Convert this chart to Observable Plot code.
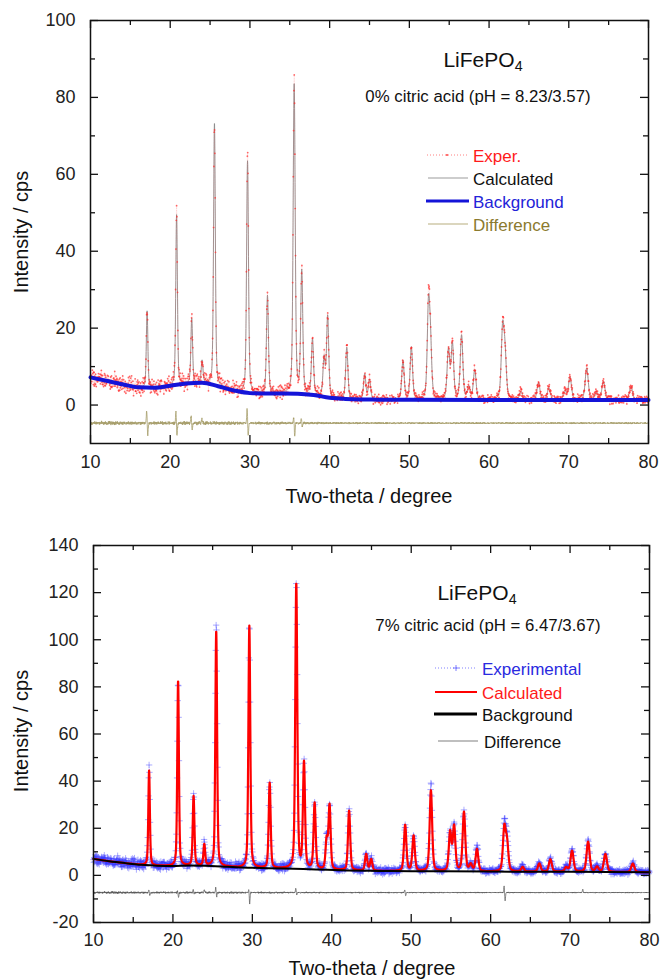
<!DOCTYPE html>
<html><head><meta charset="utf-8">
<script src="https://cdn.jsdelivr.net/npm/d3@7"></script>
<script src="https://cdn.jsdelivr.net/npm/@observablehq/plot@0.6"></script>
<style>
body{margin:0;background:#fff;}
#wrap{position:relative;width:662px;height:979px;font-family:"Liberation Sans",Arial,Helvetica,sans-serif;color:#111;overflow:hidden;background:#fff}
#wrap > svg{position:absolute;left:0;}
.t{position:absolute;white-space:nowrap;line-height:1;}
.t sub{font-size:0.68em;vertical-align:-0.28em;line-height:0;}
</style></head><body><div id="wrap"></div>
<script>
// ---------- axis ticks ----------
const xMajor = [10, 20, 30, 40, 50, 60, 70, 80];
const xMinor = [15, 25, 35, 45, 55, 65, 75];
const topYMajor = [0, 20, 40, 60, 80, 100];
const topYMinor = [10, 30, 50, 70, 90];
const botYMajor = [-20, 0, 20, 40, 60, 80, 100, 120, 140];
const botYMinor = [-10, 10, 30, 50, 70, 90, 110, 130];

// ---------- top panel (0% citric acid) ----------
const topBgTheta = [10, 12, 14, 16, 18, 20, 22, 24, 26, 28, 30, 32, 34, 36, 38, 40, 42, 44, 46, 50, 60, 70, 80];
const topBgValue = [7.2, 6.3, 5.4, 4.6, 4.5, 5.0, 5.6, 5.8, 4.9, 3.8, 3.1, 3.0, 3.0, 2.95, 2.6, 1.9, 1.6, 1.45, 1.4, 1.35, 1.3, 1.3, 1.3];
const topPeakPos = [17.1, 20.8, 22.7, 24.0, 25.55, 29.7, 32.2, 35.55, 36.5, 37.85, 39.3, 39.75, 42.15, 44.4, 45.0, 49.2, 50.25, 52.4, 52.65, 54.9, 55.4, 56.55, 57.45, 58.2, 61.7, 62.0, 64.0, 66.2, 67.5, 69.5, 70.15, 72.25, 73.5, 74.35, 77.8];
const topCalcHeight = [24.5, 49.5, 22.5, 11.5, 73.5, 63.5, 28.5, 83.5, 34.5, 17.0, 12.0, 23.0, 15.0, 8.0, 6.5, 11.5, 15.0, 24.5, 14.0, 14.0, 15.5, 18.0, 4.6, 9.0, 19.0, 12.0, 3.5, 5.8, 4.5, 3.5, 7.2, 9.6, 3.1, 6.1, 4.8];
const topExperHeight = [25.2, 51.3, 22.8, 11.5, 73.8, 67.0, 28.8, 84.2, 34.5, 17.0, 12.0, 23.2, 15.8, 8.0, 6.5, 11.5, 15.2, 26.8, 14.0, 14.2, 15.8, 18.3, 4.6, 9.2, 19.4, 12.2, 3.5, 5.9, 4.5, 3.5, 7.3, 9.7, 3.1, 6.1, 4.8];
const topDiffOffset = -4.7;
const topDiffSpikePos = [17.05, 17.18, 20.72, 20.85, 22.62, 22.75, 23.98, 29.65, 29.78, 35.5, 35.62, 36.45, 36.56];
const topDiffSpikeAmp = [3.2, -3.4, 3.0, -3.6, 1.8, -1.8, 1.2, 4.0, -3.4, 1.6, -3.6, 1.4, -1.0];

// ---------- bottom panel (7% citric acid) ----------
const botBgTheta = [10, 12, 14, 16, 18, 20, 22, 24, 26, 28, 30, 34, 38, 42, 46, 50, 60, 70, 80];
const botBgValue = [7.0, 6.0, 5.2, 4.5, 4.1, 4.0, 4.2, 4.1, 3.8, 3.4, 3.2, 2.9, 2.5, 2.1, 1.9, 1.8, 1.6, 1.5, 1.3];
const botPeakPos = [17.0, 20.65, 22.6, 23.95, 25.45, 29.62, 32.18, 35.53, 36.5, 37.84, 39.35, 39.72, 42.18, 44.33, 44.96, 49.24, 50.3, 52.48, 54.9, 55.4, 56.64, 57.5, 58.28, 61.72, 62.06, 64.03, 66.13, 67.52, 69.5, 70.25, 72.27, 73.4, 74.45, 77.9];
const botCalcHeight = [44.5, 82.6, 33.6, 13.0, 103.8, 106.0, 39.3, 123.7, 47.4, 30.4, 14.6, 29.4, 27.4, 9.0, 6.8, 21.3, 16.7, 36.0, 18.0, 20.4, 26.7, 4.4, 11.0, 19.5, 13.0, 3.5, 5.0, 6.8, 3.3, 10.4, 14.2, 3.5, 9.0, 5.0];
const botExperHeight = [45.5, 83.0, 34.0, 14.5, 107.0, 106.5, 39.5, 124.0, 47.5, 30.5, 15.0, 29.8, 27.6, 9.5, 7.0, 21.5, 17.0, 38.5, 18.5, 20.8, 27.0, 4.5, 12.0, 21.0, 14.5, 3.8, 5.5, 7.0, 3.5, 11.0, 14.5, 3.6, 9.2, 5.2];
const botDiffOffset = -7.3;
const botDiffSpikePos = [16.98, 17.08, 20.6, 20.7, 22.55, 22.65, 23.95, 25.4, 25.5, 29.56, 29.66, 35.48, 35.58, 49.2, 49.3, 61.7, 61.82, 71.6];
const botDiffSpikeAmp = [1.2, -1.5, 0.8, -2.2, 1.5, -0.8, 1.2, 2.2, -2.0, 1.5, -4.8, 1.8, -1.0, 1.3, -1.5, 2.8, -3.5, 1.2];

// ---------- counting-noise residuals (typical scatter) ----------
const noiseA = [0.42,-0.77,0.13,0.91,-0.35,-0.58,0.66,-0.12,0.29,-0.94,0.51,0.07,-0.46,0.83,-0.21,-0.69,0.38,0.74,-0.88,0.02,0.57,-0.31,-0.05,0.96,-0.63,0.24,-0.41,0.69,-0.17,-0.82,0.47,0.11,-0.56,0.33,0.79,-0.27,-0.72,0.15,0.61,-0.98,0.36,-0.09,0.53,-0.44,0.87,-0.66,0.19,-0.25,0.72,-0.52,0.04,0.45,-0.84];
const noiseB = [-0.61,0.28,0.85,-0.14,-0.92,0.47,0.09,-0.38,0.71,-0.55,0.18,0.93,-0.26,-0.71,0.34,0.6,-0.03,-0.86,0.52,-0.43,0.12,0.78,-0.67,0.25,-0.19,0.89,-0.48,-0.08,0.63,-0.95,0.41,0.16,-0.59,0.81,-0.32,0.05,-0.76,0.54,0.22,-0.5,0.97,-0.15,-0.64,0.37,0.68,-0.29,-0.81];

// ---------- helpers ----------
function bgAt(T, V, t) {
  let i = d3.bisectRight(T, t) - 1;
  i = Math.max(0, Math.min(T.length - 2, i));
  const f = (t - T[i]) / (T[i + 1] - T[i]);
  return V[i] + f * (V[i + 1] - V[i]);
}
function fwhm(t) { return 0.2 + 0.004 * (t - 10); }
function shape(dx, w) { const z = 4 * dx * dx / (w * w); return 0.6 * Math.exp(-Math.LN2 * z) + 0.4 / (1 + z); }
function profile(t, pos, hts, T, V) {
  let y = bgAt(T, V, t);
  for (let k = 0; k < pos.length; k++) {
    const w = fwhm(pos[k]), dx = t - pos[k];
    if (Math.abs(dx) > 10 * w) continue;
    y += (hts[k] - bgAt(T, V, pos[k])) * shape(dx, w);
  }
  return y;
}
function noiseAt(i) { return 0.6 * noiseA[i % noiseA.length] + 0.6 * noiseB[(i * 3) % noiseB.length]; }

function buildPanel(c) {
  const calc = d3.range(0, 3501).map(i => { const t = 10 + i * 0.02; return {t, v: profile(t, c.pos, c.calcH, c.bgT, c.bgV)}; });
  const exper = d3.range(0, 1751).map(i => {
    const t = 10 + i * 0.04;
    const amp = c.scatter * Math.sqrt(bgAt(c.bgT, c.bgV, t));
    return {t, v: profile(t, c.pos, c.expH, c.bgT, c.bgV) + amp * noiseAt(i)};
  });
  const diff = d3.range(0, 3501).map(i => {
    const t = 10 + i * 0.02;
    const amp = 0.9 * Math.sqrt(bgAt(c.bgT, c.bgV, t));
    let v = c.offset + 0.22 * amp * noiseAt(i + 7);
    for (let k = 0; k < c.spPos.length; k++) { const dx = t - c.spPos[k]; v += c.spAmp[k] * Math.exp(-dx * dx / (2 * 0.05 * 0.05)); }
    return {t, v};
  });
  const bg = c.bgT.map((t, i) => ({t, v: c.bgV[i]}));
  return {calc, exper, diff, bg};
}

function frameTicks(W, H, yMaj, yMin) {
  const s = {stroke: "#111", strokeWidth: 1.3};
  return [
    Plot.tickX(xMajor, {x: d => d, insetTop: H - 8, ...s}),
    Plot.tickX(xMajor, {x: d => d, insetBottom: H - 8, ...s}),
    Plot.tickX(xMinor, {x: d => d, insetTop: H - 5, ...s}),
    Plot.tickX(xMinor, {x: d => d, insetBottom: H - 5, ...s}),
    Plot.tickY(yMaj, {y: d => d, insetRight: W - 8, ...s}),
    Plot.tickY(yMaj, {y: d => d, insetLeft: W - 8, ...s}),
    Plot.tickY(yMin, {y: d => d, insetRight: W - 5, ...s}),
    Plot.tickY(yMin, {y: d => d, insetLeft: W - 5, ...s}),
    Plot.frame({stroke: "#111", strokeWidth: 1.5})
  ];
}

const wrap = document.getElementById("wrap");
const font = '"Liberation Sans", Arial, Helvetica, sans-serif';

// ---------- top plot ----------
const topData = buildPanel({pos: topPeakPos, calcH: topCalcHeight, expH: topExperHeight, bgT: topBgTheta, bgV: topBgValue, offset: topDiffOffset, spPos: topDiffSpikePos, spAmp: topDiffSpikeAmp, scatter: 1.05});
const tW = 662 - 90 - 14, tH = 510 - 20 - 67;
const topPlot = Plot.plot({
  width: 662, height: 510, marginTop: 20, marginBottom: 67, marginLeft: 90, marginRight: 14,
  x: {domain: [10, 80], label: null}, y: {domain: [-10, 100], label: null},
  style: {fontFamily: font, fontSize: "18px", color: "#222", background: "transparent"},
  marks: [
    Plot.line(topData.calc, {x: "t", y: "v", stroke: "#8a8a8a", strokeWidth: 0.9}),
    Plot.line(topData.exper, {x: "t", y: "v", stroke: "#ff6a6a", strokeWidth: 0.5, strokeDasharray: "1,1.5", strokeOpacity: 0.35}),
    Plot.dot(topData.exper, {x: "t", y: "v", r: 0.9, fill: "#ff2a2a", fillOpacity: 0.7}),
    Plot.line(topData.bg, {x: "t", y: "v", stroke: "#1414d8", strokeWidth: 4, curve: "monotone-x"}),
    Plot.line(topData.diff, {x: "t", y: "v", stroke: "#a69d6a", strokeWidth: 0.8}),
    ...frameTicks(tW, tH, topYMajor, topYMinor),
    Plot.axisX(xMajor, {tickSize: 0, tickPadding: 12, tickFormat: d => String(d), label: null, fontSize: 18}),
    Plot.axisY(topYMajor, {tickSize: 0, tickPadding: 15, tickFormat: d => String(d), label: null, fontSize: 18})
  ]
});
topPlot.style.top = "0px";
wrap.appendChild(topPlot);

// ---------- bottom plot ----------
const botData = buildPanel({pos: botPeakPos, calcH: botCalcHeight, expH: botExperHeight, bgT: botBgTheta, bgV: botBgValue, offset: botDiffOffset, spPos: botDiffSpikePos, spAmp: botDiffSpikeAmp, scatter: 1.0});
const bW = 662 - 93 - 13, bH = 469 - 35 - 57;
const botPlot = Plot.plot({
  width: 662, height: 469, marginTop: 35, marginBottom: 57, marginLeft: 93, marginRight: 13,
  x: {domain: [10, 80], label: null}, y: {domain: [-20, 140], label: null},
  style: {fontFamily: font, fontSize: "18px", color: "#222", background: "transparent"},
  marks: [
    Plot.line(botData.exper, {x: "t", y: "v", stroke: "#6060ff", strokeWidth: 0.5, strokeDasharray: "1,1.5", strokeOpacity: 0.35}),
    Plot.dot(botData.exper, {x: "t", y: "v", symbol: "plus", r: 2.2, stroke: "#3535ff", strokeWidth: 0.7, strokeOpacity: 0.6}),
    Plot.line(botData.calc, {x: "t", y: "v", stroke: "#ff0000", strokeWidth: 2.2}),
    Plot.line(botData.bg, {x: "t", y: "v", stroke: "#000", strokeWidth: 2, curve: "monotone-x"}),
    Plot.line(botData.diff, {x: "t", y: "v", stroke: "#555", strokeWidth: 0.7}),
    ...frameTicks(bW, bH, botYMajor, botYMinor),
    Plot.axisX(xMajor, {tickSize: 0, tickPadding: 11, tickFormat: d => String(d), label: null, fontSize: 18}),
    Plot.axisY(botYMajor, {tickSize: 0, tickPadding: 15, tickFormat: d => String(d), label: null, fontSize: 18})
  ]
});
botPlot.style.top = "510px";
wrap.appendChild(botPlot);

// ---------- texts ----------
function addText(html, css) {
  const d = document.createElement("div");
  d.className = "t"; d.innerHTML = html;
  Object.assign(d.style, css);
  wrap.appendChild(d);
  return d;
}
function centered(html, cx, topPx, size, extra) {
  return addText(html, Object.assign({left: (cx - 200) + "px", width: "400px", textAlign: "center", top: topPx + "px", fontSize: size + "px"}, extra || {}));
}
centered("Two-theta / degree", 369, 486, 20);
centered("Two-theta / degree", 372, 958, 20);
addText("Intensity / cps", {left: (21 - 100) + "px", width: "200px", textAlign: "center", top: (232 - 10) + "px", fontSize: "20px", transform: "rotate(-90deg)"});
addText("Intensity / cps", {left: (21 - 100) + "px", width: "200px", textAlign: "center", top: (731 - 10) + "px", fontSize: "20px", transform: "rotate(-90deg)"});
centered("LiFePO<sub>4</sub>", 483, 49, 21);
centered("0% citric acid (pH = 8.23/3.57)", 478, 89, 16.8);
centered("LiFePO<sub>4</sub>", 477, 582, 21);
centered("7% citric acid (pH = 6.47/3.67)", 488, 618, 16.8);

// ---------- legends ----------
const topLegend = [
  {label: "Exper.", color: "#ff1a1a", y: 156},
  {label: "Calculated", color: "#111", y: 179},
  {label: "Background", color: "#2323d8", y: 202},
  {label: "Difference", color: "#8b7a2e", y: 225}
];
const botLegend = [
  {label: "Experimental", color: "#2a2ae0", y: 669},
  {label: "Calculated", color: "#ff1a1a", y: 693},
  {label: "Background", color: "#111", y: 715},
  {label: "Difference", color: "#111", y: 742}
];
topLegend.forEach(d => addText(d.label, {left: "473px", top: (d.y - 8.3) + "px", fontSize: "17px", color: d.color}));
botLegend.forEach((d, i) => addText(d.label, {left: (i === 3 ? 484 : 482) + "px", top: (d.y - 8.3) + "px", fontSize: "17px", color: d.color}));

const lg = d3.select(wrap).append("svg").attr("width", 662).attr("height", 979)
  .style("position", "absolute").style("left", 0).style("top", 0).style("pointer-events", "none");
lg.append("line").attr("x1", 427).attr("x2", 468).attr("y1", 155).attr("y2", 155).attr("stroke", "#ff8080").attr("stroke-width", 1).attr("stroke-dasharray", "1,2");
lg.append("circle").attr("cx", 447).attr("cy", 155).attr("r", 1).attr("fill", "#ff4040");
lg.append("line").attr("x1", 428).attr("x2", 468).attr("y1", 178).attr("y2", 178).attr("stroke", "#bdbdbd").attr("stroke-width", 1.5);
lg.append("line").attr("x1", 426).attr("x2", 469).attr("y1", 201).attr("y2", 201).attr("stroke", "#1414d8").attr("stroke-width", 3);
lg.append("line").attr("x1", 428).attr("x2", 468).attr("y1", 224).attr("y2", 224).attr("stroke", "#cfc8a8").attr("stroke-width", 1.5);
lg.append("line").attr("x1", 435).attr("x2", 477).attr("y1", 668).attr("y2", 668).attr("stroke", "#8080ff").attr("stroke-width", 1).attr("stroke-dasharray", "1,2");
lg.append("path").attr("d", "M453,668h6M456,665v6").attr("stroke", "#6060ff").attr("stroke-width", 0.8);
lg.append("line").attr("x1", 435).attr("x2", 477).attr("y1", 692).attr("y2", 692).attr("stroke", "#ff0000").attr("stroke-width", 2);
lg.append("line").attr("x1", 434).attr("x2", 477).attr("y1", 714).attr("y2", 714).attr("stroke", "#000").attr("stroke-width", 3);
lg.append("line").attr("x1", 438).attr("x2", 478).attr("y1", 741).attr("y2", 741).attr("stroke", "#aaa").attr("stroke-width", 1.5);
</script></body></html>
